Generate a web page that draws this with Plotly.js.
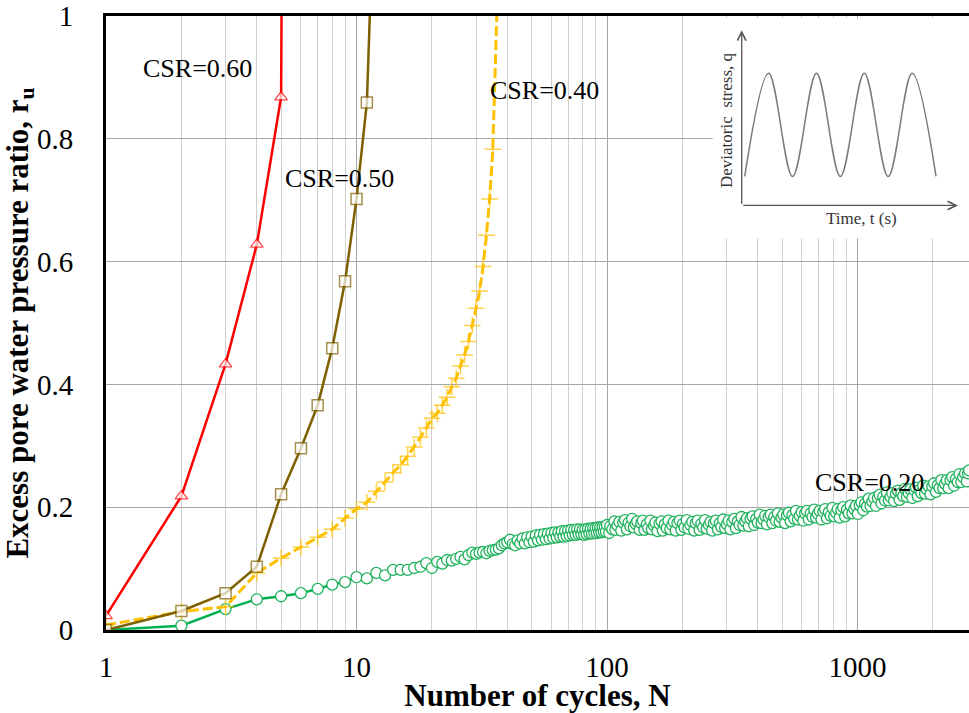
<!DOCTYPE html>
<html>
<head>
<meta charset="utf-8">
<script src="https://cdn.plot.ly/plotly-3.0.1.min.js"></script>
<style>html,body{margin:0;padding:0;background:#fff;}#chart{width:969px;height:713px;}</style>
</head>
<body>
<div id="chart"></div>
<script>
// ---- data ----
const csr60N  = [1, 2, 3, 4, 5, 5.02];
const csr60Ru = [0.023, 0.218, 0.433, 0.628, 0.868, 1.0];

const csr50N  = [1, 2, 3, 4, 5, 6, 7, 8, 9, 10, 11, 11.3];
const csr50Ru = [0.0, 0.031, 0.060, 0.103, 0.221, 0.296, 0.366, 0.459, 0.568, 0.702, 0.859, 1.0];

const csr40N  = [1, 2, 3, 4, 5, 6, 7, 8, 9, 10, 11, 12, 13, 14, 15, 16, 17, 18, 19, 20,
                 21, 22, 23, 24, 25, 26, 27, 28, 29, 30, 31, 32, 33, 34, 35, 36.3];
const csr40Ru = [0.008, 0.030, 0.038, 0.093, 0.117, 0.135, 0.151, 0.164, 0.182, 0.197, 0.208, 0.226,
                 0.241, 0.256, 0.269, 0.283, 0.298, 0.314, 0.329, 0.345, 0.353, 0.366, 0.379, 0.396,
                 0.410, 0.430, 0.448, 0.470, 0.496, 0.524, 0.552, 0.592, 0.643, 0.702, 0.783, 1.0];

const csr20N = [1, 2, 3, 4, 5, 6, 7, 8, 9, 10, 11, 12, 13, 14, 15, 16, 17, 18, 19, 20,
  21, 22, 23, 24, 25, 26, 27, 28, 29, 30, 31, 32, 33, 34, 35, 36, 37, 38, 39, 40,
  41, 42, 43, 44, 45, 46, 47, 48, 49, 50, 51, 52, 53, 54, 55, 56, 57, 58, 59, 60,
  61, 62, 63, 64, 65, 66, 67, 68, 69, 70, 71, 72, 73, 74, 75, 76, 77, 78, 79, 80,
  81, 82, 83, 84, 85, 86, 87, 88, 89, 90, 91, 92, 93, 94, 95, 96, 97, 98, 99,
  100, 102, 103, 105, 107, 108, 110, 112, 114, 116, 118, 120, 122, 124, 126, 128, 130, 132, 135, 137,
  139, 141, 144, 146, 149, 151, 154, 156, 159, 162, 165, 167, 170, 173, 176, 179, 182, 185, 188, 191,
  195, 198, 201, 204, 208, 211, 215, 219, 223, 226, 230, 234, 238, 242, 246, 250, 255, 259, 263, 267,
  272, 277, 282, 286, 291, 296, 301, 306, 311, 316, 322, 327, 333, 338, 344, 350, 356, 362, 368, 374,
  381, 387, 394, 400, 407, 414, 421, 428, 435, 442, 450, 457, 465, 473, 481, 489, 497, 505, 514, 523,
  532, 541, 550, 559, 568, 578, 588, 598, 608, 618, 628, 639, 650, 661, 672, 683, 694, 706, 718, 730,
  742, 755, 768, 781, 794, 807, 821, 834, 848, 862, 877, 892, 907, 922, 938, 954, 970, 986, 1003, 1020,
  1037, 1054, 1072, 1090, 1108, 1127, 1146, 1165, 1185, 1205, 1225, 1246, 1267, 1288, 1310, 1332, 1354, 1377, 1400, 1424,
  1448, 1472, 1497, 1522, 1548, 1574, 1600, 1627, 1655, 1683, 1711, 1740, 1769, 1799, 1829, 1860, 1891, 1923, 1955, 1988,
  2022, 2056, 2090, 2125, 2161, 2198, 2235, 2273, 2311, 2350, 2389, 2429, 2470, 2512, 2554, 2597, 2641, 2686, 2731, 2760, 2790];
const csr20Ru = [0.000, 0.007, 0.034, 0.050, 0.055, 0.060, 0.067, 0.074, 0.078, 0.086, 0.084, 0.093, 0.089, 0.098, 0.098, 0.098, 0.101, 0.103, 0.109, 0.101,
  0.111, 0.108, 0.114, 0.113, 0.116, 0.119, 0.115, 0.122, 0.126, 0.124, 0.126, 0.127, 0.125, 0.129, 0.130, 0.131, 0.133, 0.138, 0.141, 0.143,
  0.147, 0.140, 0.138, 0.146, 0.141, 0.149, 0.141, 0.151, 0.143, 0.152, 0.144, 0.154, 0.146, 0.155, 0.147, 0.156, 0.148, 0.157, 0.149, 0.158,
  0.150, 0.159, 0.151, 0.159, 0.152, 0.161, 0.152, 0.161, 0.153, 0.162, 0.154, 0.163, 0.155, 0.163, 0.155, 0.164, 0.156, 0.164, 0.156, 0.163,
  0.155, 0.164, 0.156, 0.165, 0.157, 0.165, 0.157, 0.166, 0.158, 0.166, 0.158, 0.167, 0.159, 0.167, 0.159, 0.168, 0.160, 0.168, 0.160,
  0.171, 0.158, 0.169, 0.164, 0.177, 0.163, 0.170, 0.176, 0.162, 0.175, 0.179, 0.164, 0.175, 0.169, 0.181, 0.167, 0.173, 0.177, 0.163, 0.174,
  0.178, 0.163, 0.172, 0.166, 0.178, 0.164, 0.170, 0.175, 0.161, 0.173, 0.177, 0.162, 0.172, 0.166, 0.178, 0.164, 0.171, 0.176, 0.162, 0.174,
  0.178, 0.163, 0.173, 0.167, 0.179, 0.165, 0.171, 0.176, 0.162, 0.174, 0.178, 0.163, 0.173, 0.167, 0.179, 0.165, 0.171, 0.176, 0.162, 0.174,
  0.178, 0.164, 0.174, 0.168, 0.180, 0.166, 0.172, 0.178, 0.164, 0.176, 0.181, 0.166, 0.177, 0.171, 0.184, 0.170, 0.177, 0.182, 0.169, 0.181,
  0.185, 0.171, 0.181, 0.175, 0.188, 0.174, 0.180, 0.186, 0.172, 0.184, 0.188, 0.174, 0.184, 0.178, 0.190, 0.176, 0.183, 0.188, 0.174, 0.187,
  0.191, 0.177, 0.187, 0.181, 0.194, 0.180, 0.186, 0.192, 0.178, 0.190, 0.194, 0.180, 0.190, 0.184, 0.196, 0.183, 0.189, 0.194, 0.180, 0.193,
  0.197, 0.182, 0.192, 0.186, 0.199, 0.185, 0.191, 0.197, 0.183, 0.195, 0.200, 0.185, 0.196, 0.190, 0.203, 0.190, 0.197, 0.202, 0.189, 0.203,
  0.208, 0.195, 0.206, 0.201, 0.214, 0.202, 0.209, 0.215, 0.202, 0.215, 0.220, 0.206, 0.217, 0.211, 0.224, 0.211, 0.217, 0.223, 0.210, 0.222,
  0.227, 0.212, 0.223, 0.218, 0.230, 0.217, 0.223, 0.229, 0.215, 0.228, 0.232, 0.218, 0.228, 0.223, 0.235, 0.222, 0.229, 0.234, 0.221, 0.234,
  0.239, 0.225, 0.236, 0.231, 0.244, 0.231, 0.238, 0.244, 0.231, 0.244, 0.249, 0.235, 0.246, 0.241, 0.254, 0.241, 0.249, 0.255, 0.242, 0.255, 0.260];

const xTickVals = [1, 10, 100, 1000];
const xTickText = ['1', '10', '100', '1000'];
const yTickVals = [0, 0.2, 0.4, 0.6, 0.8, 1];
const yTickText = ['0', '0.2', '0.4', '0.6', '0.8', '1'];

const seriesLabels = ['CSR=0.60', 'CSR=0.50', 'CSR=0.40', 'CSR=0.20'];

// inset schematic: cyclic deviatoric stress (troughs and peaks)
const insetT = [0, 1, 2, 3, 4, 5, 6, 7, 8];
const insetQ = [0, 1, 0, 1, 0, 1, 0, 1, 0];

// ---- drawing ----
const SERIF = 'Liberation Serif, Times New Roman, serif';
const RED = '#FF0000', BROWN = '#7F6000', GOLD = '#FFC000', GREEN = '#00B050';

function hideLast(arr, size) { return arr.map((_, i) => i === arr.length - 1 ? 0 : size); }

const traces = [
  {
    x: csr20N, y: csr20Ru, type: 'scatter', mode: 'lines+markers', name: seriesLabels[3],
    line: {color: GREEN, width: 2.5},
    marker: {symbol: 'circle', size: 11, color: '#ffffff', line: {color: '#20b25c', width: 1.3}}
  },
  {
    x: csr40N, y: csr40Ru, type: 'scatter', mode: 'lines+markers', name: seriesLabels[2],
    line: {color: GOLD, width: 3, dash: '10px,4px'},
    marker: {symbol: 'cross-thin', size: hideLast(csr40N, 12), color: GOLD, line: {color: GOLD, width: 1.5}}
  },
  {
    x: csr50N, y: csr50Ru, type: 'scatter', mode: 'lines+markers', name: seriesLabels[1],
    line: {color: BROWN, width: 2.5},
    marker: {symbol: 'square', size: hideLast(csr50N, 11), color: '#ffffff', line: {color: BROWN, width: 1.5}}
  },
  {
    x: csr60N, y: csr60Ru, type: 'scatter', mode: 'lines+markers', name: seriesLabels[0],
    line: {color: RED, width: 2.5},
    marker: {symbol: 'triangle-up', size: hideLast(csr60N, 11), color: '#ffffff', line: {color: RED, width: 1.3}}
  },
  {
    x: insetT, y: insetQ, xaxis: 'x2', yaxis: 'y2', type: 'scatter', mode: 'lines',
    line: {color: '#7a7a7a', width: 1.5, shape: 'spline', smoothing: 1}, hoverinfo: 'skip'
  }
];

const layout = {
  width: 969, height: 713,
  margin: {l: 106, r: 0, t: 16, b: 83, pad: 0},
  paper_bgcolor: '#ffffff', plot_bgcolor: '#ffffff',
  showlegend: false,
  font: {family: SERIF, color: '#000000'},
  xaxis: {
    type: 'log', range: [0, 3.445],
    tickmode: 'array', tickvals: xTickVals, ticktext: xTickText,
    tickfont: {family: SERIF, size: 29, color: '#000'},
    ticks: '', ticklabelstandoff: 9,
    showgrid: true, gridcolor: '#a6a6a6', gridwidth: 1,
    minor: {dtick: 'D1', showgrid: true, gridcolor: '#cfcfcf', gridwidth: 1, ticks: ''},
    showline: true, linecolor: '#000', linewidth: 3, mirror: true,
    zeroline: false,
    title: {text: '<b>Number of cycles, N</b>', font: {family: SERIF, size: 31, color: '#000'}, standoff: 17}
  },
  yaxis: {
    range: [0, 1],
    tickmode: 'array', tickvals: yTickVals, ticktext: yTickText,
    tickfont: {family: SERIF, size: 29, color: '#000'},
    ticks: '', ticklabelstandoff: 24,
    showgrid: true, gridcolor: '#a6a6a6', gridwidth: 1,
    showline: true, linecolor: '#000', linewidth: 3, mirror: false,
    zeroline: false,
    title: {text: '<b>Excess pore water pressure ratio, r<sub>u</sub></b>', font: {family: SERIF, size: 31, color: '#000'}, standoff: 3}
  },
  xaxis2: {domain: [0.703, 1.0], anchor: 'y2', range: [-1.34, 9.38], visible: false, fixedrange: true},
  yaxis2: {domain: [0.638, 0.9965], anchor: 'x2', range: [-0.60, 1.534], visible: false, fixedrange: true},
  annotations: [
    {xref: 'x', yref: 'y', x: 0.367, y: 0.915, text: seriesLabels[0], showarrow: false, font: {family: SERIF, size: 26, color: '#000'}},
    {xref: 'x', yref: 'y', x: 0.934, y: 0.736, text: seriesLabels[1], showarrow: false, font: {family: SERIF, size: 26, color: '#000'}},
    {xref: 'x', yref: 'y', x: 1.749, y: 0.879, text: seriesLabels[2], showarrow: false, font: {family: SERIF, size: 26, color: '#000'}},
    {xref: 'x', yref: 'y', x: 3.046, y: 0.241, text: seriesLabels[3], showarrow: false, font: {family: SERIF, size: 26, color: '#000'}},
    // inset axes (arrows)
    {xref: 'x2', yref: 'y2', axref: 'x2', ayref: 'y2', x: -0.126, y: 1.417, ax: -0.126, ay: -0.282,
     text: '', showarrow: true, arrowhead: 5, arrowsize: 1.3, arrowwidth: 1.3, arrowcolor: '#555'},
    {xref: 'x2', yref: 'y2', axref: 'x2', ayref: 'y2', x: 8.92, y: -0.282, ax: -0.126, ay: -0.282,
     text: '', showarrow: true, arrowhead: 5, arrowsize: 1.3, arrowwidth: 1.3, arrowcolor: '#555'},
    {xref: 'x2', yref: 'y2', x: -0.754, y: 0.544, text: 'Deviatoric  stress, q', textangle: -90, showarrow: false,
     font: {family: SERIF, size: 17, color: '#333'}},
    {xref: 'x2', yref: 'y2', x: 4.9, y: -0.408, text: 'Time, t (s)', showarrow: false,
     font: {family: SERIF, size: 17, color: '#333'}}
  ]
};

Plotly.newPlot('chart', traces, layout, {displayModeBar: false, staticPlot: true});
</script>
</body>
</html>
